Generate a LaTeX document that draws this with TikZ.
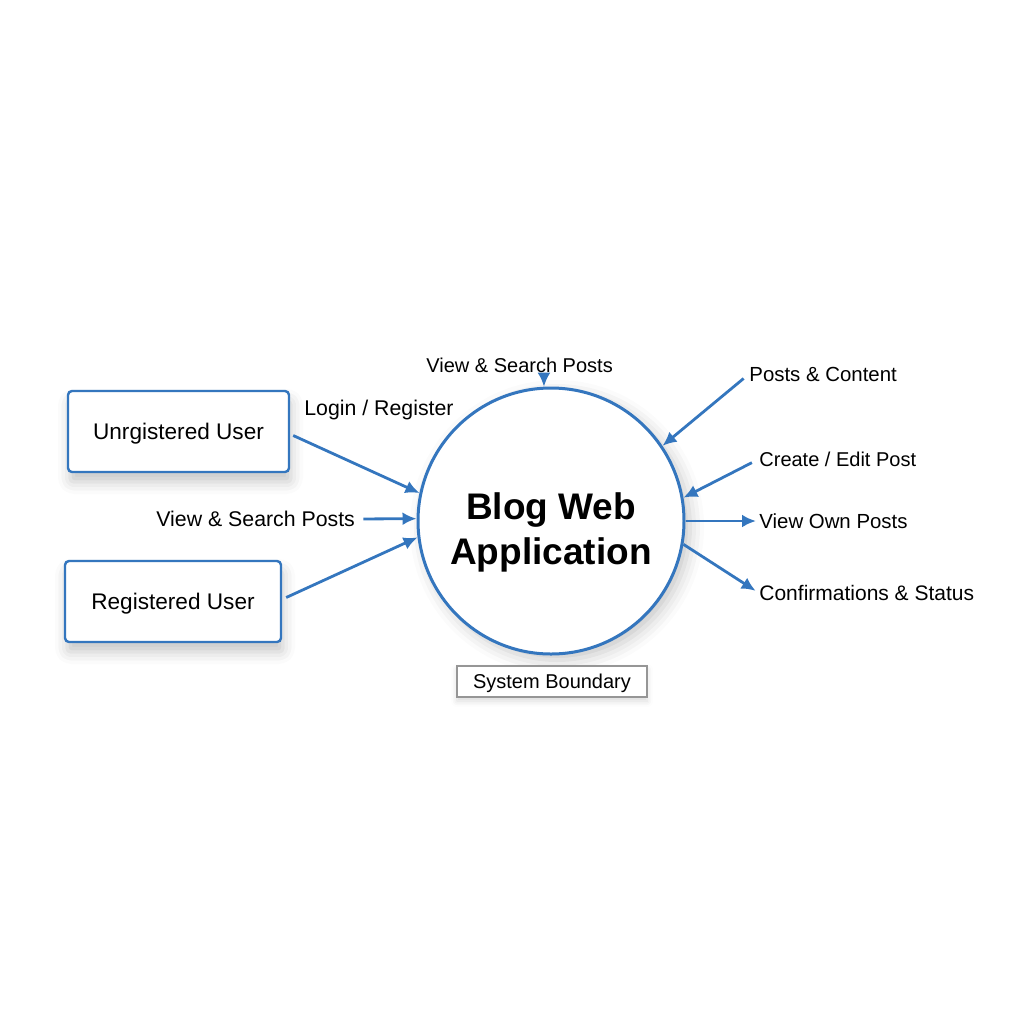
\documentclass[tikz,border=0pt]{standalone}
\usepackage{fontspec}
\setmainfont{Liberation Sans}
\usepackage{xcolor}
\usepackage{tikz}
\usetikzlibrary{shapes,arrows.meta,shadows.blur}
\definecolor{flowblue}{RGB}{52,118,190}
\definecolor{boundgray}{RGB}{150,150,150}

\begin{document}
\begin{tikzpicture}[x=0.5pt,y=-0.5pt,
  entity/.style={draw=flowblue, line width=1.2pt, rounded corners=2pt, fill=white,
    minimum height=40.5pt, text height=8pt, text depth=0pt, font=\fontsize{11.3}{13}\selectfont,
    blur shadow={shadow xshift=1pt, shadow yshift=-5pt, shadow blur radius=6pt, shadow opacity=22}},
  flowlabel/.style={inner sep=0pt, text height=7.4pt, text depth=0pt, anchor=west,
    font=\fontsize{#1}{12}\selectfont},
  flowlabel/.default=10.2,
  flow/.style={draw=flowblue, line width=1.4pt, -{Latex[length=7pt,width=6.5pt]}}]
\useasboundingbox (0,0) rectangle (1024,1024);

% Processus central
\node[circle, draw=flowblue, line width=1.5pt, fill=white, minimum size=133pt, inner sep=0pt,
  blur shadow={shadow xshift=3pt, shadow yshift=-3pt, shadow blur radius=7pt, shadow opacity=22}]
  (app) at (551,521) {};
\node[align=center, font=\fontsize{18.5}{22.7}\selectfont\bfseries] (title) at (551,532.5) {Blog Web\\Application};

% Limite du systeme
\node[draw=boundgray, line width=0.6pt, fill=white, minimum width=95pt, minimum height=15.5pt,
  inner sep=0pt, text height=7.2pt, text depth=0pt, font=\fontsize{10}{11}\selectfont,
  blur shadow={shadow xshift=0pt, shadow yshift=-2pt, shadow blur radius=3pt, shadow opacity=15}]
  (bound) at (552,681.5) {System Boundary};

% Entites externes
\node[entity, minimum width=110.5pt] (unreg) at (178.5,431.5) {Unrgistered User};
\node[entity, minimum width=108pt] (reg) at (173,601.5) {Registered User};

% Etiquettes des flux
\node[flowlabel=10.65] (login) at (304,408) {Login / Register};
\node[flowlabel=10.65] (viewl) at (156,519) {View \& Search Posts};
\node[flowlabel=10] (viewt) at (426,365) {View \& Search Posts};
\node[flowlabel] (postc) at (749,374) {Posts \& Content};
\node[flowlabel=10] (edit) at (759,459) {Create / Edit Post};
\node[flowlabel] (ownp) at (759,521) {View Own Posts};
\node[flowlabel=10.5] (conf) at (759,593) {Confirmations \& Status};

% Flux entrants
\draw[flow] ([xshift=1.5pt,yshift=-2pt]unreg.east) -- (app.168);
\draw[flow, shorten <=4pt] (viewl.east) -- (app.179);
\draw[flow] ([xshift=2pt,yshift=2pt]reg.east) -- (app.187);
\draw[flow] (app.93 |- viewt.south) ++(0,5) -- (app.93);
\draw[flow, shorten <=3.5pt] (postc.west) -- (app.34);
\draw[flow, shorten <=4pt] (edit.west) -- (app.10);

% Flux sortants
\draw[flow, shorten >=1.5pt] (app.east) -- (ownp.west);
\draw[flow, shorten >=2pt] (app.-10) -- (conf.west);

\end{tikzpicture}
\end{document}
